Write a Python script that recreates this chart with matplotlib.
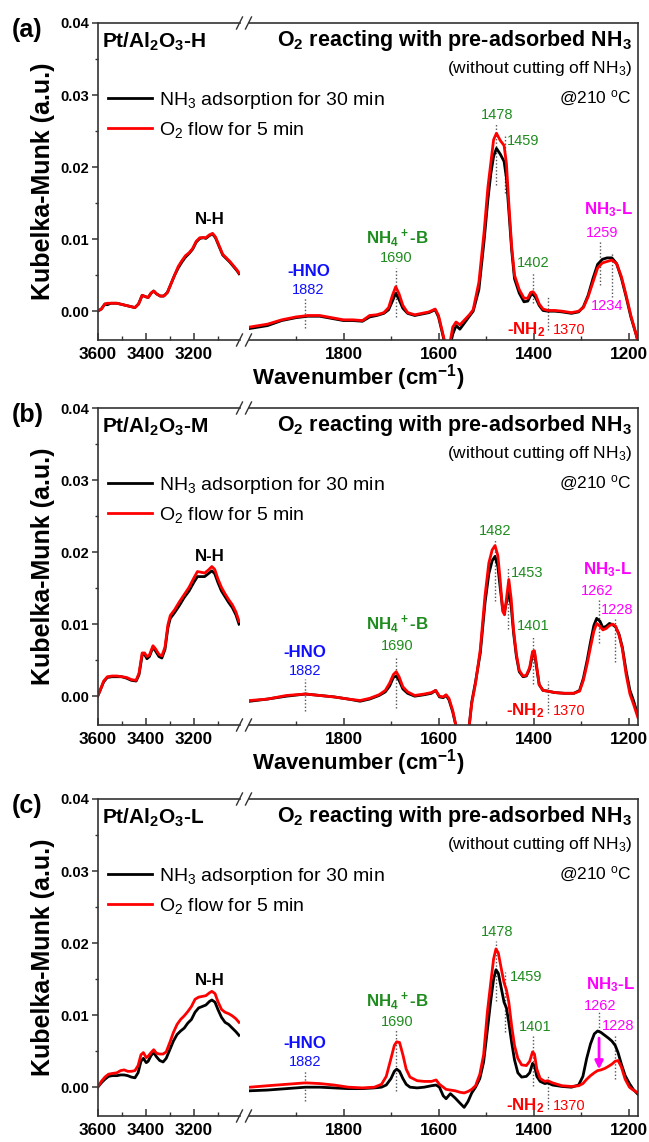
import numpy as np
import matplotlib
matplotlib.use('Agg')
from matplotlib import pyplot as plt
from matplotlib.lines import Line2D

plt.rcParams['font.family'] = ['Liberation Sans', 'DejaVu Sans']
plt.rcParams['mathtext.fontset'] = 'custom'
plt.rcParams['mathtext.rm'] = 'Liberation Sans'
plt.rcParams['mathtext.bf'] = 'Liberation Sans:bold'
plt.rcParams['mathtext.default'] = 'regular'

# ---------------- data ----------------
# panel (a) Pt/Al2O3-H
a_left_wn = [3600, 3585, 3570, 3560, 3545, 3520, 3495, 3470, 3445, 3430, 3415, 3400, 3390, 3378, 3367,
             3355, 3340, 3325, 3310, 3295, 3280, 3265, 3250, 3235, 3220, 3205, 3190, 3175, 3160, 3150,
             3135, 3122, 3110, 3095, 3080, 3065, 3050, 3035, 3020, 3012]
a_left_nh3 = [0.0000, 0.0003, 0.0010, 0.0009, 0.0011, 0.0011, 0.0009, 0.0007, 0.0005, 0.0010, 0.0022,
              0.0020, 0.0019, 0.0025, 0.0028, 0.0024, 0.0021, 0.0021, 0.0026, 0.0038, 0.0050, 0.0060,
              0.0068, 0.0075, 0.0080, 0.0086, 0.0096, 0.0101, 0.0102, 0.0101, 0.0105, 0.0107, 0.0102,
              0.0090, 0.0078, 0.0073, 0.0068, 0.0062, 0.0056, 0.0052]
a_left_o2 = [0.0000, 0.0003, 0.0010, 0.0011, 0.0011, 0.0011, 0.0009, 0.0007, 0.0005, 0.0010, 0.0022,
             0.0020, 0.0019, 0.0025, 0.0028, 0.0024, 0.0021, 0.0021, 0.0026, 0.0038, 0.0050, 0.0062,
             0.0070, 0.0077, 0.0081, 0.0087, 0.0097, 0.0102, 0.0102, 0.0102, 0.0106, 0.0108, 0.0103,
             0.0091, 0.0079, 0.0074, 0.0069, 0.0063, 0.0057, 0.0053]
a_right_wn = [1997, 1960, 1930, 1900, 1875, 1850, 1825, 1800, 1780, 1760, 1745, 1730, 1715, 1705, 1697,
              1690, 1683, 1675, 1665, 1650, 1635, 1620, 1607, 1600, 1592, 1585, 1578, 1570, 1563, 1555,
              1545, 1535, 1527, 1515, 1504, 1496, 1490, 1484, 1478, 1470, 1462, 1457, 1452, 1446, 1440,
              1430, 1420, 1412, 1406, 1401, 1395, 1388, 1380, 1370, 1355, 1340, 1320, 1305, 1295, 1285,
              1275, 1265, 1255, 1245, 1235, 1225, 1215, 1205, 1195, 1185, 1180]
a_right_nh3 = [-0.0024, -0.0020, -0.0013, -0.0009, -0.0007, -0.0007, -0.0010, -0.0013, -0.0013, -0.0014,
               -0.0008, -0.0006, -0.0003, 0.0002, 0.0014, 0.0025, 0.0016, 0.0004, -0.0003, -0.0006,
               -0.0004, -0.0002, 0.0002, -0.0008, -0.0030, -0.0050, -0.0055, -0.0032, -0.0020, -0.0025,
               -0.0016, -0.0007, 0.0000, 0.0030, 0.0098, 0.0155, 0.0190, 0.0215, 0.0226, 0.0218, 0.0208,
               0.0185, 0.0140, 0.0085, 0.0045, 0.0025, 0.0013, 0.0014, 0.0022, 0.0024, 0.0018, 0.0008,
               0.0001, 0.0000, 0.0000, -0.0001, -0.0003, -0.0001, 0.0006, 0.0022, 0.0045, 0.0065, 0.0072,
               0.0074, 0.0074, 0.0066, 0.0046, 0.0020, -0.0008, -0.0030, -0.0042]
a_right_o2 = [-0.0022, -0.0018, -0.0012, -0.0008, -0.0006, -0.0006, -0.0009, -0.0012, -0.0012, -0.0013,
              -0.0006, -0.0005, -0.0002, 0.0005, 0.0022, 0.0034, 0.0024, 0.0008, -0.0002, -0.0005,
              -0.0003, -0.0001, 0.0003, -0.0006, -0.0028, -0.0048, -0.0052, -0.0022, -0.0015, -0.0019,
              -0.0012, -0.0005, 0.0002, 0.0040, 0.0110, 0.0172, 0.0205, 0.0238, 0.0247, 0.0237, 0.0230,
              0.0205, 0.0150, 0.0090, 0.0050, 0.0030, 0.0018, 0.0018, 0.0026, 0.0027, 0.0022, 0.0010,
              0.0003, 0.0001, 0.0001, 0.0000, -0.0002, 0.0000, 0.0005, 0.0020, 0.0040, 0.0060, 0.0067,
              0.0069, 0.0071, 0.0066, 0.0048, 0.0022, -0.0006, -0.0030, -0.0042]

# panel (b) Pt/Al2O3-M
b_left_wn = [3600, 3590, 3575, 3560, 3540, 3520, 3500, 3480, 3460, 3440, 3428, 3415, 3405, 3395, 3385,
             3370, 3360, 3345, 3333, 3320, 3308, 3298, 3280, 3260, 3240, 3220, 3200, 3185, 3170, 3155,
             3140, 3125, 3113, 3100, 3085, 3070, 3055, 3040, 3025, 3012]
b_left_nh3 = [0.0000, 0.0008, 0.0020, 0.0026, 0.0027, 0.0027, 0.0027, 0.0025, 0.0022, 0.0021, 0.0030,
              0.0057, 0.0058, 0.0052, 0.0055, 0.0068, 0.0063, 0.0055, 0.0053, 0.0065, 0.0095, 0.0108,
              0.0116, 0.0126, 0.0137, 0.0146, 0.0158, 0.0166, 0.0166, 0.0166, 0.0170, 0.0174, 0.0170,
              0.0158, 0.0146, 0.0138, 0.0130, 0.0123, 0.0113, 0.0100]
b_left_o2 = [0.0000, 0.0008, 0.0021, 0.0027, 0.0028, 0.0028, 0.0027, 0.0026, 0.0023, 0.0022, 0.0032,
             0.0060, 0.0060, 0.0055, 0.0057, 0.0070, 0.0066, 0.0058, 0.0056, 0.0068, 0.0099, 0.0112,
             0.0120, 0.0131, 0.0141, 0.0151, 0.0164, 0.0173, 0.0172, 0.0171, 0.0175, 0.0180, 0.0176,
             0.0163, 0.0151, 0.0142, 0.0134, 0.0127, 0.0117, 0.0104]
b_right_wn = [1997, 1960, 1920, 1880, 1850, 1820, 1790, 1765, 1745, 1725, 1712, 1703, 1695, 1689, 1683,
              1675, 1665, 1650, 1630, 1615, 1606, 1598, 1590, 1584, 1578, 1570, 1562, 1545, 1536, 1530,
              1522, 1512, 1502, 1494, 1487, 1481, 1475, 1470, 1465, 1461, 1457, 1452, 1447, 1442, 1436,
              1430, 1422, 1415, 1408, 1402, 1398, 1394, 1388, 1380, 1370, 1355, 1335, 1315, 1303, 1295,
              1287, 1280, 1273, 1267, 1260, 1254, 1247, 1240, 1233, 1227, 1220, 1213, 1205, 1197, 1190,
              1180]
b_right_nh3 = [-0.0007, -0.0004, 0.0000, 0.0003, 0.0001, -0.0001, -0.0004, -0.0007, -0.0004, 0.0001,
               0.0006, 0.0014, 0.0026, 0.0028, 0.0022, 0.0010, 0.0004, 0.0000, 0.0002, 0.0004, 0.0008,
               -0.0001, -0.0002, 0.0001, -0.0005, -0.0022, -0.0045, -0.0060, -0.0045, -0.0008, 0.0020,
               0.0060, 0.0130, 0.0170, 0.0188, 0.0194, 0.0180, 0.0150, 0.0122, 0.0118, 0.0130, 0.0146,
               0.0125, 0.0088, 0.0055, 0.0034, 0.0027, 0.0028, 0.0038, 0.0058, 0.0060, 0.0042, 0.0016,
               0.0008, 0.0007, 0.0005, 0.0004, 0.0004, 0.0008, 0.0025, 0.0050, 0.0075, 0.0098, 0.0108,
               0.0104, 0.0095, 0.0097, 0.0101, 0.0099, 0.0096, 0.0086, 0.0068, 0.0035, 0.0008, -0.0005,
               -0.0027]
b_right_o2 = [-0.0006, -0.0004, 0.0001, 0.0003, 0.0001, -0.0001, -0.0004, -0.0006, -0.0003, 0.0002,
              0.0008, 0.0018, 0.0030, 0.0034, 0.0027, 0.0013, 0.0006, 0.0001, 0.0003, 0.0005, 0.0008,
              0.0000, -0.0001, 0.0002, -0.0003, -0.0020, -0.0045, -0.0060, -0.0045, -0.0010, 0.0018,
              0.0065, 0.0140, 0.0185, 0.0203, 0.0209, 0.0195, 0.0160, 0.0118, 0.0113, 0.0135, 0.0162,
              0.0135, 0.0092, 0.0058, 0.0036, 0.0028, 0.0029, 0.0040, 0.0062, 0.0063, 0.0045, 0.0016,
              0.0008, 0.0007, 0.0005, 0.0004, 0.0004, 0.0007, 0.0022, 0.0045, 0.0068, 0.0090, 0.0101,
              0.0097, 0.0092, 0.0094, 0.0098, 0.0100, 0.0097, 0.0085, 0.0066, 0.0030, 0.0003, -0.0010,
              -0.0030]

# panel (c) Pt/Al2O3-L
c_left_wn = [3600, 3585, 3570, 3555, 3540, 3520, 3505, 3490, 3475, 3460, 3445, 3432, 3420, 3410, 3398,
             3390, 3378, 3367, 3355, 3342, 3328, 3315, 3300, 3285, 3270, 3255, 3240, 3225, 3210, 3195,
             3180, 3165, 3150, 3135, 3125, 3112, 3100, 3085, 3070, 3055, 3040, 3025, 3012]
c_left_nh3 = [0.0000, 0.0006, 0.0011, 0.0015, 0.0016, 0.0016, 0.0017, 0.0017, 0.0016, 0.0014, 0.0013,
              0.0020, 0.0036, 0.0040, 0.0034, 0.0036, 0.0044, 0.0048, 0.0042, 0.0037, 0.0035, 0.0040,
              0.0052, 0.0064, 0.0073, 0.0078, 0.0082, 0.0089, 0.0094, 0.0104, 0.0110, 0.0112, 0.0114,
              0.0119, 0.0121, 0.0118, 0.0108, 0.0097, 0.0090, 0.0087, 0.0082, 0.0077, 0.0072]
c_left_o2 = [0.0000, 0.0008, 0.0014, 0.0018, 0.0019, 0.0020, 0.0023, 0.0024, 0.0022, 0.0022, 0.0023,
             0.0030, 0.0045, 0.0048, 0.0041, 0.0043, 0.0048, 0.0052, 0.0047, 0.0046, 0.0046, 0.0049,
             0.0062, 0.0076, 0.0087, 0.0094, 0.0099, 0.0105, 0.0112, 0.0122, 0.0125, 0.0126, 0.0127,
             0.0131, 0.0133, 0.0130, 0.0119, 0.0108, 0.0104, 0.0102, 0.0099, 0.0095, 0.0090]
c_right_wn = [1997, 1960, 1920, 1880, 1850, 1820, 1790, 1760, 1735, 1720, 1710, 1700, 1693, 1688, 1682,
              1675, 1668, 1660, 1645, 1630, 1615, 1605, 1598, 1590, 1584, 1575, 1565, 1555, 1546, 1538,
              1530, 1522, 1513, 1505, 1497, 1490, 1484, 1479, 1474, 1468, 1462, 1457, 1452, 1446, 1440,
              1433, 1425, 1415, 1408, 1402, 1398, 1393, 1386, 1376, 1370, 1360, 1340, 1320, 1305, 1296,
              1288, 1280, 1272, 1265, 1258, 1250, 1242, 1235, 1228, 1222, 1215, 1207, 1198, 1190, 1180]
c_right_nh3 = [-0.0005, -0.0004, -0.0002, 0.0000, 0.0000, -0.0001, -0.0002, -0.0002, -0.0001, 0.0000,
               0.0003, 0.0012, 0.0022, 0.0025, 0.0022, 0.0012, 0.0004, 0.0000, -0.0001, 0.0000, 0.0002,
               0.0003, 0.0000, -0.0012, -0.0016, -0.0009, -0.0015, -0.0022, -0.0028, -0.0020, -0.0008,
               0.0000, 0.0012, 0.0035, 0.0080, 0.0120, 0.0150, 0.0163, 0.0158, 0.0138, 0.0118, 0.0110,
               0.0090, 0.0062, 0.0038, 0.0020, 0.0014, 0.0015, 0.0020, 0.0033, 0.0030, 0.0015, 0.0008,
               0.0005, 0.0006, 0.0003, 0.0001, 0.0000, 0.0003, 0.0015, 0.0040, 0.0060, 0.0074, 0.0078,
               0.0076, 0.0072, 0.0068, 0.0064, 0.0058, 0.0048, 0.0032, 0.0016, 0.0005, -0.0003, -0.0010]
c_right_o2 = [0.0000, 0.0002, 0.0004, 0.0006, 0.0005, 0.0003, 0.0000, -0.0001, 0.0000, 0.0004, 0.0015,
              0.0040, 0.0058, 0.0063, 0.0062, 0.0045, 0.0025, 0.0014, 0.0009, 0.0008, 0.0008, 0.0010,
              0.0004, 0.0000, -0.0003, -0.0004, -0.0005, -0.0007, -0.0008, -0.0006, -0.0003, 0.0002,
              0.0018, 0.0045, 0.0105, 0.0145, 0.0178, 0.0192, 0.0186, 0.0165, 0.0145, 0.0135, 0.0118,
              0.0085, 0.0058, 0.0040, 0.0031, 0.0030, 0.0036, 0.0049, 0.0046, 0.0025, 0.0012, 0.0008,
              0.0009, 0.0006, 0.0002, 0.0001, 0.0002, 0.0005, 0.0011, 0.0016, 0.0020, 0.0023, 0.0024,
              0.0026, 0.0029, 0.0032, 0.0036, 0.0037, 0.0028, 0.0011, 0.0000, -0.0004, -0.0008]

# peak marks: wavenumber and dotted-line extent
peak_wn = {'a': [1882, 1690, 1478, 1459, 1402, 1370, 1259, 1234],
           'b': [1882, 1690, 1482, 1453, 1401, 1370, 1262, 1228],
           'c': [1882, 1690, 1478, 1459, 1401, 1370, 1262, 1228]}
peak_lo = {'a': [-0.0024, -0.0008, 0.0175, 0.0164, 0.0012, -0.0026, 0.0037, 0.0020],
           'b': [-0.0020, -0.0016, 0.0132, 0.0093, 0.0017, -0.0023, 0.0074, 0.0047],
           'c': [-0.0019, -0.0005, 0.0120, 0.0076, 0.0002, -0.0030, 0.0078, 0.0012]}
peak_hi = {'a': [0.0019, 0.0060, 0.0261, 0.0245, 0.0053, 0.0019, 0.0099, 0.0081],
           'b': [0.0024, 0.0056, 0.0217, 0.0178, 0.0083, 0.0021, 0.0134, 0.0107],
           'c': [0.0023, 0.0079, 0.0203, 0.0160, 0.0072, 0.0016, 0.0104, 0.0072]}

samples = {'a': 'Pt/Al$_2$O$_3$-H', 'b': 'Pt/Al$_2$O$_3$-M', 'c': 'Pt/Al$_2$O$_3$-L'}

BLUE = '#1010ff'
GREEN = '#1f8c1f'
MAG = '#ff00ff'
RED = '#ff0000'

# labels (text, x, y, color, bold, ha)
labels = {
    'a': [('-HNO', 1874, 0.0055, BLUE, True, 'center'), ('1882', 1875, 0.0030, BLUE, False, 'center'),
          ('NH$_4$$^+$-B', 1687, 0.0102, GREEN, True, 'center'), ('1690', 1690, 0.0074, GREEN, False, 'center'),
          ('1478', 1477, 0.0272, GREEN, False, 'center'), ('1459', 1457, 0.0236, GREEN, False, 'left'),
          ('1402', 1400, 0.0067, GREEN, False, 'center'), ('-NH$_2$', 1375, -0.0026, RED, True, 'right'),
          ('1370', 1360, -0.0026, RED, False, 'left'), ('NH$_3$-L', 1242, 0.0141, MAG, True, 'center'),
          ('1259', 1256, 0.0109, MAG, False, 'center'), ('1234', 1245, 0.0007, MAG, False, 'center')],
    'b': [('-HNO', 1881, 0.0060, BLUE, True, 'center'), ('1882', 1880, 0.0035, BLUE, False, 'center'),
          ('NH$_4$$^+$-B', 1687, 0.0100, GREEN, True, 'center'), ('1690', 1687, 0.0070, GREEN, False, 'center'),
          ('1482', 1480, 0.0229, GREEN, False, 'center'), ('1453', 1447, 0.0171, GREEN, False, 'left'),
          ('1401', 1400, 0.0097, GREEN, False, 'center'), ('-NH$_2$', 1377, -0.0020, RED, True, 'right'),
          ('1370', 1360, -0.0020, RED, False, 'left'), ('NH$_3$-L', 1245, 0.0176, MAG, True, 'center'),
          ('1262', 1266, 0.0146, MAG, False, 'center'), ('1228', 1224, 0.0120, MAG, False, 'center')],
    'c': [('-HNO', 1881, 0.0060, BLUE, True, 'center'), ('1882', 1880, 0.0035, BLUE, False, 'center'),
          ('NH$_4$$^+$-B', 1687, 0.0120, GREEN, True, 'center'), ('1690', 1687, 0.0090, GREEN, False, 'center'),
          ('1478', 1477, 0.0215, GREEN, False, 'center'), ('1459', 1450, 0.0153, GREEN, False, 'left'),
          ('1401', 1397, 0.0083, GREEN, False, 'center'), ('-NH$_2$', 1378, -0.0026, RED, True, 'right'),
          ('1370', 1360, -0.0026, RED, False, 'left'), ('NH$_3$-L', 1238, 0.0143, MAG, True, 'center'),
          ('1262', 1260, 0.0113, MAG, False, 'center'), ('1228', 1221, 0.0085, MAG, False, 'center')],
}
nh_label_y = {'a': 0.0127, 'b': 0.0194, 'c': 0.0148}

curves = {
    'a': (a_left_wn, a_left_nh3, a_left_o2, a_right_wn, a_right_nh3, a_right_o2),
    'b': (b_left_wn, b_left_nh3, b_left_o2, b_right_wn, b_right_nh3, b_right_o2),
    'c': (c_left_wn, c_left_nh3, c_left_o2, c_right_wn, c_right_nh3, c_right_o2),
}

# ---------------- figure ----------------
W, H = 649, 1142
fig = plt.figure(figsize=(W / 100, H / 100), dpi=100)

SPINE = '#333333'
panel_top = {'a': 23, 'b': 408, 'c': 799}
AX_H = 317
L0, L1 = 97.7, 239.5
R0, R1 = 248.5, 638.0


def slash(ax, x, y):
    # small "/" break mark in pixel offsets around axes point
    dx, dy = 3.0 / (ax.bbox.width), 6.0 / (ax.bbox.height)
    ax.plot([x - dx, x + dx], [y - dy, y + dy], transform=ax.transAxes, color=SPINE,
            lw=1.0, clip_on=False)


for key in ['a', 'b', 'c']:
    top = panel_top[key]
    bottom = (H - top - AX_H) / H
    h = AX_H / H
    ax1 = fig.add_axes([L0 / W, bottom, (L1 - L0) / W, h])
    ax2 = fig.add_axes([R0 / W, bottom, (R1 - R0) / W, h])
    ax1.set_zorder(3)

    lw_, lb_, lr_, rw_, rb_, rr_ = curves[key]
    ax1.plot(lw_, lb_, color='black', lw=2.0)
    ax1.plot(lw_, lr_, color=RED, lw=2.0)
    ax2.plot(rw_, rb_, color='black', lw=2.0)
    ax2.plot(rw_, rr_, color=RED, lw=2.0)

    ax1.set_xlim(3600, 3010)
    ax2.set_xlim(2000, 1180)
    for ax in (ax1, ax2):
        ax.set_ylim(-0.004, 0.04)
        for s in ax.spines.values():
            s.set_color(SPINE)
            s.set_linewidth(1.2)
    ax1.spines['right'].set_visible(False)
    ax2.spines['left'].set_visible(False)

    ax1.set_xticks([3600, 3400, 3200])
    ax1.set_xticks([3500, 3300, 3100], minor=True)
    ax2.set_xticks([1800, 1600, 1400, 1200])
    ax2.set_xticks([1900, 1700, 1500, 1300], minor=True)
    ax1.set_yticks([0.00, 0.01, 0.02, 0.03, 0.04])
    ax1.set_yticks([0.005, 0.015, 0.025, 0.035], minor=True)
    ax1.set_yticklabels(['0.00', '0.01', '0.02', '0.03', '0.04'])
    ax2.set_yticks([])
    ax2.set_yticks([], minor=True)
    for ax in (ax1, ax2):
        ax.tick_params(axis='x', which='major', direction='in', length=5, width=1.1, color=SPINE,
                       labelsize=12.3, pad=5)
        ax.tick_params(axis='x', which='minor', direction='in', length=3, width=1.0, color=SPINE)
        for t in ax.get_xticklabels():
            t.set_fontweight('bold')
    ax1.tick_params(axis='y', which='major', direction='out', length=4, width=1.1, color=SPINE,
                    labelsize=10.5, pad=2)
    ax1.tick_params(axis='y', which='minor', direction='out', length=2.5, width=1.0, color=SPINE)
    for t in ax1.get_yticklabels():
        t.set_fontweight('bold')
    ax1.set_ylabel('Kubelka-Munk (a.u.)', fontsize=18, fontweight='bold', labelpad=4)

    # break marks
    slash(ax1, 1.0, 1.0)
    slash(ax1, 1.0, 0.0)
    slash(ax2, 0.0, 1.0)
    slash(ax2, 0.0, 0.0)

    # dotted peak lines
    for x, y0, y1 in zip(peak_wn[key], peak_lo[key], peak_hi[key]):
        ax2.plot([x, x], [y0, y1], color='#555555', lw=1.0, ls=(0, (1, 1.5)), zorder=1)

    for txt, x, y, col, bold, ha in labels[key]:
        ax2.text(x, y, txt, color=col, fontsize=12.2 if bold else 10.5,
                 fontweight='bold' if bold else 'normal', ha=ha, va='center')
    ax1.text(3134, nh_label_y[key], 'N-H', fontsize=12.2, fontweight='bold', ha='center', va='center')

    # titles
    ax1.text(0.028, 0.941, samples[key], transform=ax1.transAxes, fontsize=15, fontweight='bold',
             ha='left', va='center')
    ax2.text(0.984, 0.946, 'O$_2$ reacting with pre-adsorbed NH$_3$', transform=ax2.transAxes,
             fontsize=15.5, fontweight='bold', ha='right', va='center')
    ax2.text(0.984, 0.858, '(without cutting off NH$_3$)', transform=ax2.transAxes,
             fontsize=12.5, ha='right', va='center')
    ax2.text(0.984, 0.763, '@210 $^o$C', transform=ax2.transAxes,
             fontsize=12.5, ha='right', va='center')

    handles = [Line2D([], [], color='black', lw=2.0), Line2D([], [], color=RED, lw=2.0)]
    ax1.legend(handles, ['NH$_3$ adsorption for 30 min', 'O$_2$ flow for 5 min'], loc='upper left',
               bbox_to_anchor=(0.07, 0.79), frameon=False, fontsize=14, handlelength=2.3,
               handletextpad=0.35, labelspacing=0.5, borderpad=0, borderaxespad=0)

    fig.text(12 / W, 1 - (top + 7) / H, '(' + key + ')', fontsize=18, fontweight='bold',
             ha='left', va='center')

    if key == 'c':
        ax2.annotate('', xy=(1262, 0.0021), xytext=(1262, 0.0072),
                     arrowprops=dict(arrowstyle='-|>', color=MAG, lw=2.0, mutation_scale=12))
    else:
        fig.text(358 / W, 1 - (top + AX_H + 38) / H, 'Wavenumber (cm$^{-1}$)', fontsize=16,
                 fontweight='bold', ha='center', va='center')

fig.savefig('out.png', dpi=100)
